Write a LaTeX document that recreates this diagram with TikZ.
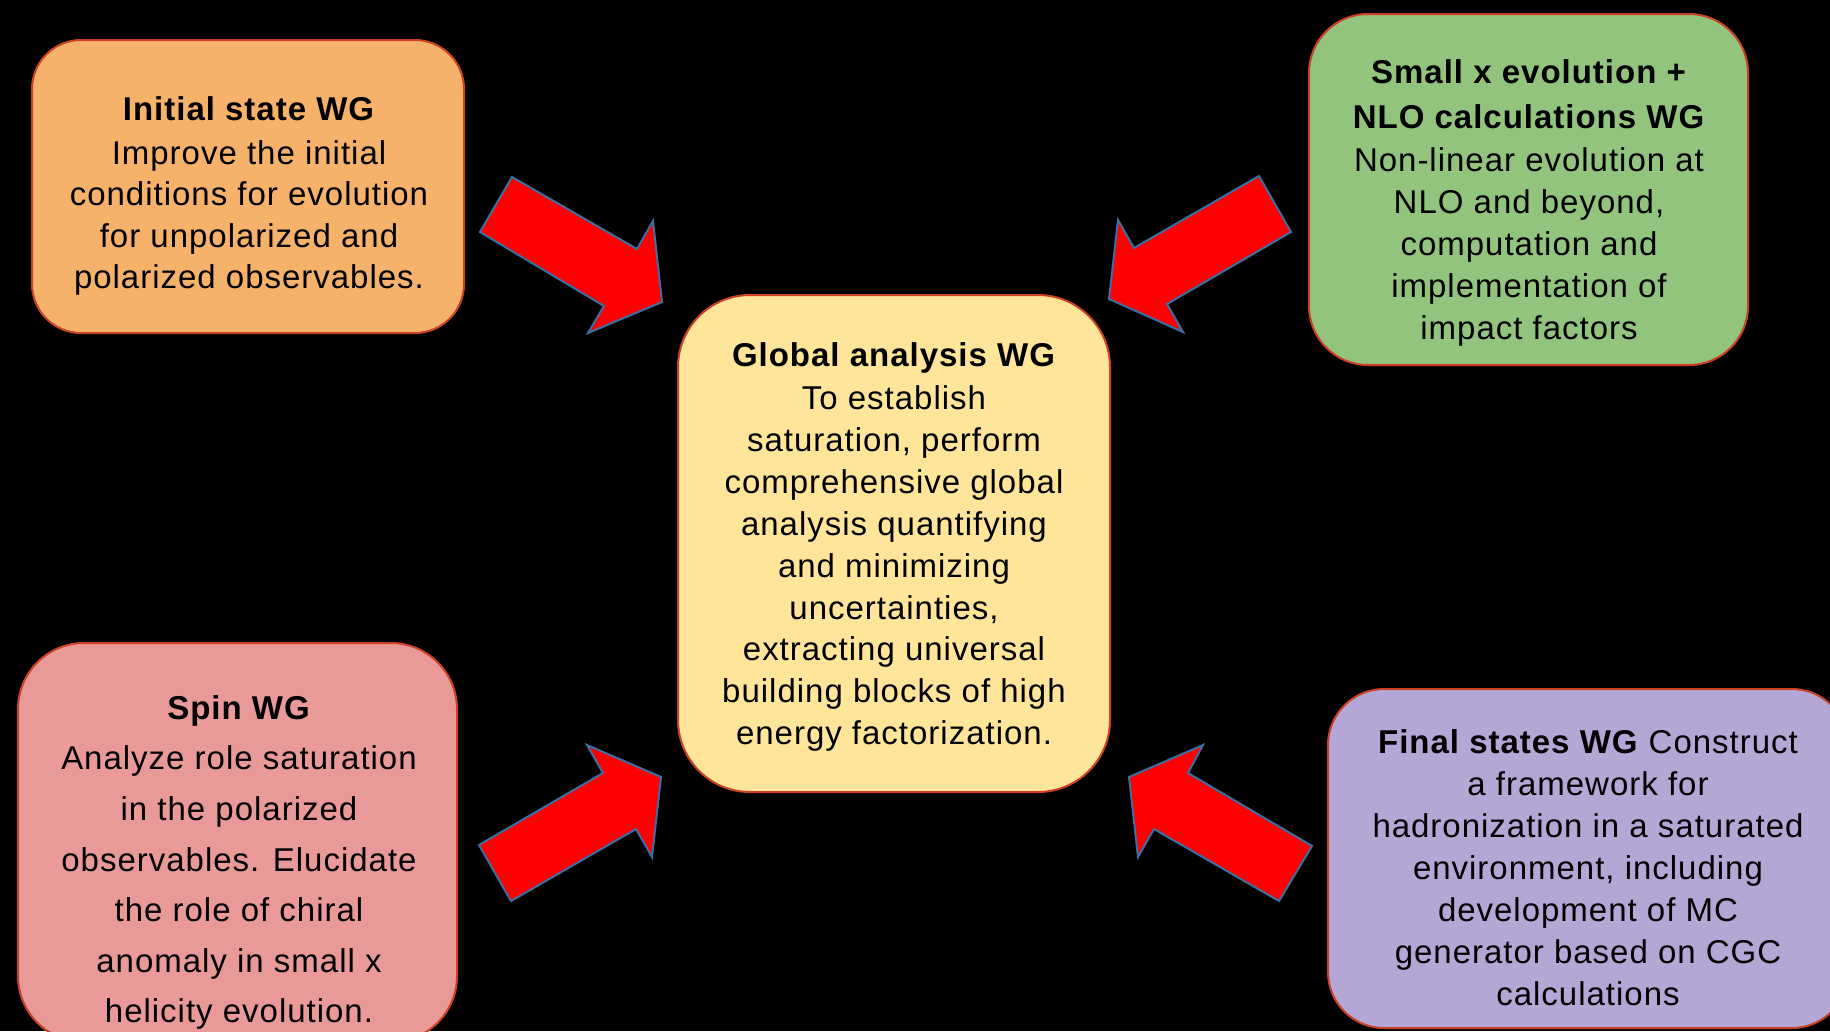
\documentclass[tikz,border=0pt]{standalone}
\usepackage{fontspec}
\setmainfont{Liberation Sans}[LetterSpace=3]
\definecolor{bordc}{HTML}{CC4125}
\definecolor{arrowb}{HTML}{3D6FA3}
\definecolor{cOrange}{HTML}{F6B26B}
\definecolor{cGreen}{HTML}{93C47D}
\definecolor{cPink}{HTML}{EA9999}
\definecolor{cPurple}{HTML}{B4A7D6}
\definecolor{cYellow}{HTML}{FFE599}
\tikzset{
  wgbox/.style={draw=bordc, line width=2pt, inner sep=0pt, outer sep=0pt},
  wgtext/.style={align=center, text=black, inner sep=0pt, font=\fontsize{33}{42}\selectfont},
  blockarrow/.style={fill=red, draw=arrowb, line width=2pt, line join=miter}
}
\begin{document}
\begin{tikzpicture}[x=1pt, y=-1pt]
\path[use as bounding box, fill=black] (0,0) rectangle (1830,1031);

% boxes
\node[wgbox, fill=cOrange, rounded corners=49pt, minimum width=432pt, minimum height=293pt] (init) at (248,186.5) {};
\node[wgbox, fill=cGreen, rounded corners=59pt, minimum width=439pt, minimum height=351pt] (smallx) at (1528.5,189.5) {};
\node[wgbox, fill=cYellow, rounded corners=72pt, minimum width=432pt, minimum height=497pt] (global) at (894,543.5) {};
\node[wgbox, fill=cPink, rounded corners=66pt, minimum width=439pt, minimum height=399pt] (spin) at (237.5,842.5) {};
\node[wgbox, fill=cPurple, rounded corners=56pt, minimum width=520pt, minimum height=339pt] (final) at (1588,858.5) {};

% texts
\node[wgtext, font=\fontsize{33}{41.5}\selectfont] (initT) at (249,196) {\textbf{Initial state WG}\\[2.5pt]Improve the initial\\conditions for evolution\\for unpolarized and\\polarized observables.};
\node[wgtext] (smallxT) at (1529,203) {\textbf{Small x evolution +}\\[3pt]\textbf{NLO calculations WG}\\[1pt]Non-linear evolution at\\NLO and beyond,\\computation and\\implementation of\\impact factors};
\node[wgtext, font=\fontsize{33}{41.9}\selectfont] (globalT) at (894,547) {\textbf{Global analysis WG}\\[1.3pt]To establish\\saturation, perform\\comprehensive global\\analysis quantifying\\and minimizing\\uncertainties,\\extracting universal\\building blocks of high\\energy factorization.};
\node[wgtext, font=\fontsize{33}{50.6}\selectfont] (spinT) at (239,862.5) {\textbf{Spin WG}\\Analyze role saturation\\in the polarized\\observables. Elucidate\\the role of chiral\\anomaly in small x\\helicity evolution.};
\node[wgtext] (finalT) at (1588,867.5) {\textbf{Final states WG} Construct\\a framework for\\hadronization in a saturated\\environment, including\\development of MC\\generator based on CGC\\calculations};

% block arrows
\draw[blockarrow] (512,177) -- (637,249) -- (653,221) -- (662,302) -- (588,333) -- (604,306) -- (480,232) -- cycle;
\draw[blockarrow] (1259,176) -- (1134,248) -- (1118,220) -- (1109,299) -- (1183,332) -- (1167,304) -- (1291,232) -- cycle;
\draw[blockarrow] (479,845) -- (603,773) -- (587,745) -- (661,777) -- (652,857) -- (636,829) -- (511,901) -- cycle;
\draw[blockarrow] (1312,846) -- (1188,773) -- (1203,745) -- (1129,777) -- (1138,857) -- (1154,829) -- (1279,901) -- cycle;
\end{tikzpicture}
\end{document}
